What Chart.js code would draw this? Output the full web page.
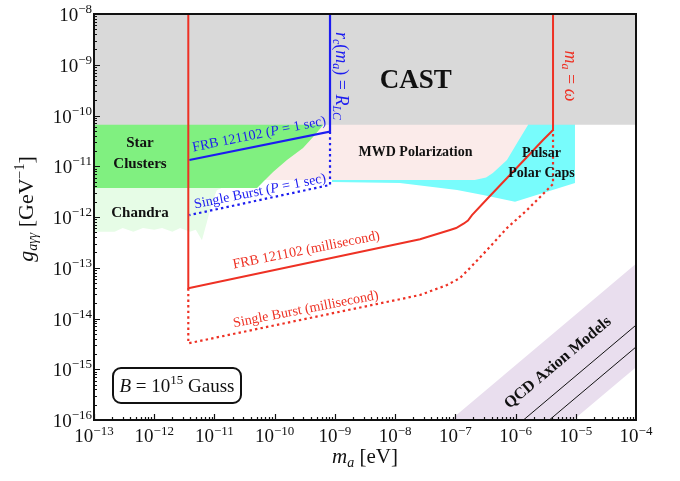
<!DOCTYPE html>
<html>
<head>
<meta charset="utf-8">
<script src="https://cdn.jsdelivr.net/npm/chart.js@4.4.1/dist/chart.umd.min.js"></script>
<style>
  html, body { margin: 0; padding: 0; background: #fff; }
  canvas { display: block; }
</style>
</head>
<body>
<canvas id="axionChart" width="680" height="481"></canvas>
<script>
// tick labels (powers of ten)
const xTickPowers = [-13, -12, -11, -10, -9, -8, -7, -6, -5, -4];
const yTickPowers = [-16, -15, -14, -13, -12, -11, -10, -9, -8];

// excluded regions, lower boundary of each (filled up to the top)
const castM = [1e-13, 1e-4];
const castG = [6.6e-11, 6.6e-11];
const starM = [1e-13, 5.1e-11, 6.4e-11, 9.4e-11, 1.6e-10, 2.96e-10, 4.34e-10, 6.4e-10];
const starG = [3.72e-12, 3.72e-12, 4.9e-12, 7.7e-12, 1.33e-11, 2.29e-11, 3.77e-11, 6.5e-11];
const chandraM = [1e-13, 2.2e-13, 3.0e-13, 4.5e-13, 6.5e-13, 1.0e-12, 1.35e-12, 2.0e-12, 2.7e-12, 3.9e-12, 4.9e-12, 6.2e-12, 7.5e-12, 9.1e-12, 1.1e-11, 1.3e-11];
const chandraG = [5.1e-13, 5.1e-13, 6.1e-13, 5.1e-13, 6.1e-13, 5.6e-13, 6.1e-13, 5.1e-13, 6.1e-13, 5.1e-13, 5.6e-13, 3.5e-13, 8.0e-13, 1.9e-12, 3.4e-12, 3.7e-12];
const mwdM = [4.7e-11, 2.1e-7, 3.24e-7, 4.2e-7, 7.2e-7, 1.06e-6, 1.61e-6];
const mwdG = [5.36e-12, 5.36e-12, 6.0e-12, 7.4e-12, 1.33e-11, 2.87e-11, 6.5e-11];
const polarCapM = [8.95e-10, 1.2e-8, 1.07e-7, 2.88e-7, 9.8e-7, 9.7e-6];
const polarCapG = [4.9e-12, 4.7e-12, 3.4e-12, 2.7e-12, 2.0e-12, 4.7e-12];

// QCD axion band and model lines
const qcdM = [1e-9, 1e-4];
const qcdUpperG = [1.2e-18, 1.2e-13];
const qcdLowerG = [1.1e-20, 1.1e-15];
const ksvzG = [7.4e-20, 7.4e-15];
const dfszG = [2.75e-20, 2.75e-15];

// magnetar sensitivity curves
const frbSecM = [8.3e-10, 8.3e-10, 3.83e-12];
const frbSecG = [1e-8, 4.8e-11, 1.33e-11];
const burstSecM = [8.3e-10, 8.3e-10, 3.83e-12];
const burstSecG = [4.8e-11, 4.28e-12, 1.09e-12];
const frbMsM = [3.68e-12, 3.68e-12, 2.59e-8, 8.17e-8, 1.03e-7, 1.39e-7, 1.62e-7, 1.89e-7, 3.49e-7, 7.22e-7, 1.55e-6, 2.86e-6, 4.19e-6, 4.19e-6];
const frbMsG = [1e-8, 3.94e-14, 3.64e-13, 5.55e-13, 6.07e-13, 7.45e-13, 8.53e-13, 1.09e-12, 2.37e-12, 5.86e-12, 1.52e-11, 3.29e-11, 5.18e-11, 1e-8];
const burstMsM = [3.68e-12, 3.68e-12, 2.59e-8, 7.28e-8, 1.2e-7, 1.75e-7, 3.36e-7, 7.22e-7, 1.55e-6, 3.33e-6, 4.19e-6, 4.19e-6];
const burstMsG = [3.94e-14, 3.24e-15, 2.9e-14, 4.57e-14, 6.28e-14, 9.89e-14, 2.24e-13, 6.07e-13, 1.37e-12, 3.4e-12, 4.47e-12, 5.18e-11];

const RED = '#ee3124';
const BLUE = '#1c1cf0';
const SERIF = '"Liberation Serif", "Times New Roman", serif';

const pts = (ms, gs) => ms.map((m, i) => ({ x: m, y: gs[i] }));

function region(ms, gs, color, order, fill) {
  return {
    data: pts(ms, gs), order: order, fill: fill === undefined ? 'end' : fill,
    borderWidth: 0, borderColor: 'rgba(0,0,0,0)', backgroundColor: color,
    pointRadius: 0, tension: 0
  };
}
function curve(ms, gs, color, width, dashed, order) {
  return {
    data: pts(ms, gs), order: order, fill: false,
    borderWidth: width, borderColor: color, borderDash: dashed ? [2.4, 3.2] : [],
    borderJoinStyle: 'miter', pointRadius: 0, tension: 0
  };
}

// text annotations: parts = [text, size, style, dy]
const notes = [
  { m: 2.2e-8, g: 3.5e-10, rot: 0, color: '#111', parts: [['CAST', 27, 'bold']] },
  { m: 5.8e-13, g: 2.4e-11, rot: 0, color: '#111', parts: [['Star', 15, 'bold']] },
  { m: 5.8e-13, g: 9.2e-12, rot: 0, color: '#111', parts: [['Clusters', 15, 'bold']] },
  { m: 5.8e-13, g: 1.0e-12, rot: 0, color: '#111', parts: [['Chandra', 15, 'bold']] },
  { m: 2.18e-8, g: 1.59e-11, rot: 0, color: '#111', parts: [['MWD Polarization', 14, 'bold']] },
  { m: 2.7e-6, g: 1.52e-11, rot: 0, color: '#111', parts: [['Pulsar', 14, 'bold']] },
  { m: 2.7e-6, g: 6.1e-12, rot: 0, color: '#111', parts: [['Polar Caps', 14, 'bold']] },
  { m: 5.7e-11, g: 3.6e-11, rot: -11.4, color: BLUE,
    parts: [['FRB 121102 (', 14], ['P', 14, 'italic'], [' = 1 sec)', 14]] },
  { m: 5.9e-11, g: 2.7e-12, rot: -11.4, color: BLUE,
    parts: [['Single Burst (', 14], ['P', 14, 'italic'], [' = 1 sec)', 14]] },
  { m: 3.44e-10, g: 1.87e-13, rot: -11.3, color: RED, parts: [['FRB 121102 (millisecond)', 14]] },
  { m: 3.38e-10, g: 1.28e-14, rot: -11, color: RED, parts: [['Single Burst (millisecond)', 14]] },
  { m: 1.04e-9, g: 6.0e-10, rot: 90, color: BLUE,
    parts: [['r', 18, 'italic'], ['c', 12, 'italic', 3], ['(', 18], ['m', 18, 'italic'], ['a', 12, 'italic', 3],
            [')', 18], [' = ', 18], ['R', 18, 'italic'], ['LC', 12, 'italic', 3]] },
  { m: 6.6e-6, g: 6.0e-10, rot: 90, color: RED,
    parts: [['m', 18, 'italic'], ['a', 12, 'italic', 3], [' = ', 18], ['ω', 18, 'italic']] },
  { m: 5.6e-6, g: 1.16e-15, rot: -40, color: '#111', parts: [['QCD Axion Models', 16, 'bold']] }
];

function drawRich(ctx, parts, x, y, rot, align, color) {
  ctx.save();
  ctx.translate(x, y);
  ctx.rotate(rot * Math.PI / 180);
  ctx.fillStyle = color;
  ctx.textBaseline = 'alphabetic';
  ctx.textAlign = 'left';
  const fontOf = p => (p[2] || '') + ' ' + p[1] + 'px ' + SERIF;
  let w = 0;
  parts.forEach(p => { ctx.font = fontOf(p); w += ctx.measureText(p[0]).width; });
  let cx = align === 'center' ? -w / 2 : (align === 'right' ? -w : 0);
  parts.forEach(p => {
    ctx.font = fontOf(p);
    ctx.fillText(p[0], cx, p[3] || 0);
    cx += ctx.measureText(p[0]).width;
  });
  ctx.restore();
}

const decorations = {
  id: 'decorations',
  afterDatasetsDraw(chart) {
    const { ctx, chartArea: a, scales: { x, y } } = chart;
    notes.forEach(n => {
      drawRich(ctx, n.parts, x.getPixelForValue(n.m), y.getPixelForValue(n.g), n.rot, 'center', n.color);
    });

    // B-field box
    ctx.save();
    ctx.strokeStyle = '#111';
    ctx.lineWidth = 2;
    ctx.fillStyle = '#fff';
    ctx.beginPath();
    ctx.roundRect(a.left + 19, a.bottom - 52, 128, 35, 8);
    ctx.fill();
    ctx.stroke();
    ctx.restore();
    drawRich(ctx, [['B', 19, 'italic'], [' = 10', 19], ['15', 13, '', -8], [' Gauss', 19]],
      a.left + 83, a.bottom - 28, 0, 'center', '#111');

    // frame
    ctx.save();
    ctx.strokeStyle = '#111';
    ctx.lineWidth = 2;
    ctx.strokeRect(a.left, a.top, a.right - a.left, a.bottom - a.top);

    // inward ticks
    ctx.lineWidth = 1.2;
    ctx.beginPath();
    for (let p = -13; p < -4; p++) {
      for (let k = 1; k < 10; k++) {
        const px = Math.round(x.getPixelForValue(k * Math.pow(10, p))) + 0.5;
        const len = k === 1 ? 6 : 3;
        ctx.moveTo(px, a.bottom); ctx.lineTo(px, a.bottom - len);
      }
    }
    for (let p = -16; p < -8; p++) {
      for (let k = 1; k < 10; k++) {
        const py = Math.round(y.getPixelForValue(k * Math.pow(10, p))) + 0.5;
        const len = k === 1 ? 6 : 3;
        ctx.moveTo(a.left, py); ctx.lineTo(a.left + len, py);
      }
    }
    ctx.stroke();
    ctx.restore();

    // tick labels
    xTickPowers.forEach(p => {
      drawRich(ctx, [['10', 19], ['\u2212' + Math.abs(p), 13, '', -7]],
        x.getPixelForValue(Math.pow(10, p)), a.bottom + 22, 0, 'center', '#111');
    });
    yTickPowers.forEach(p => {
      drawRich(ctx, [['10', 19], ['\u2212' + Math.abs(p), 13, '', -8]],
        a.left - 2, y.getPixelForValue(Math.pow(10, p)) + 7, 0, 'right', '#111');
    });

    // axis titles
    drawRich(ctx, [['m', 21, 'italic'], ['a', 14, 'italic', 4], [' [eV]', 21]],
      (a.left + a.right) / 2, 463, 0, 'center', '#111');
    drawRich(ctx, [['g', 22, 'italic'], ['aγγ', 14, 'italic', 4], [' [GeV', 22], ['\u22121', 14, '', -9], [']', 22]],
      33, 209, -90, 'center', '#111');
  }
};

new Chart(document.getElementById('axionChart'), {
  type: 'line',
  data: {
    datasets: [
      region(castM, castG, '#d9d9d9', 5),
      region(starM, starG, '#80f080', 6),
      region(mwdM, mwdG, '#fbebea', 7),
      region(polarCapM, polarCapG, '#78fcfc', 8),
      region(chandraM, chandraG, '#e6fce6', 9),
      region(qcdM, qcdUpperG, '#e9deee', 10, '+1'),
      region(qcdM, qcdLowerG, '#e9deee', 11, false),
      curve(qcdM, ksvzG, '#111', 1, false, 4),
      curve(qcdM, dfszG, '#111', 1, false, 4),
      curve(burstSecM, burstSecG, BLUE, 2.2, true, 3),
      curve(frbSecM, frbSecG, BLUE, 2.2, false, 2),
      curve(burstMsM, burstMsG, RED, 2.2, true, 1),
      curve(frbMsM, frbMsG, RED, 2, false, 0)
    ]
  },
  options: {
    responsive: false,
    animation: false,
    events: [],
    layout: { padding: { top: 14, right: 44, left: 0, bottom: 0 } },
    plugins: { legend: { display: false }, tooltip: { enabled: false } },
    scales: {
      x: {
        type: 'logarithmic', min: 1e-13, max: 1e-4,
        ticks: { display: false }, grid: { display: false }, border: { display: false },
        afterFit: s => { s.height = 61; }
      },
      y: {
        type: 'logarithmic', min: 1e-16, max: 1e-8,
        ticks: { display: false }, grid: { display: false }, border: { display: false },
        afterFit: s => { s.width = 94; }
      }
    }
  },
  plugins: [decorations]
});
</script>
</body>
</html>
